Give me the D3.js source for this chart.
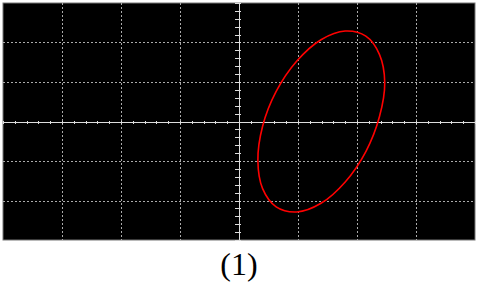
<!DOCTYPE html>
<html>
<head>
<meta charset="utf-8">
<script src="https://cdn.jsdelivr.net/npm/d3@7"></script>
<style>
  html, body { margin: 0; padding: 0; background: #fff; }
  svg { display: block; }
</style>
</head>
<body>
<svg width="479" height="286"></svg>
<script>
// screen divisions (x: 8 div, y: 6 div)
const xDivs = [-4, -3, -2, -1, 0, 1, 2, 3, 4];
const yDivs = [-3, -2, -1, 0, 1, 2, 3];
const caption = "(1)";

// trace, in divisions
const traceX = [2.47, 2.38, 2.15, 1.80, 1.39, 0.98, 0.63, 0.40, 0.32, 0.40, 0.63, 0.98, 1.39, 1.80, 2.15, 2.38];
const traceY = [0.99, 1.70, 2.16, 2.29, 2.07, 1.53, 0.76, -0.12, -0.99, -1.70, -2.16, -2.29, -2.07, -1.53, -0.76, 0.12];

const svg = d3.select("svg");

const x = d3.scaleLinear().domain([-4, 4]).range([3, 475]);
const y = d3.scaleLinear().domain([-3, 3]).range([240, 3]);

// screen
svg.append("rect")
    .attr("x", x(-4)).attr("y", y(3))
    .attr("width", x(4) - x(-4)).attr("height", y(-3) - y(3))
    .attr("fill", "#000")
    .attr("stroke", "#777")
    .attr("stroke-width", 1);

const grid = svg.append("g")
    .attr("stroke", "#aaa")
    .attr("stroke-width", 1)
    .attr("stroke-dasharray", "2,2");

grid.selectAll("line.v")
    .data(xDivs.filter(d => d !== 0 && Math.abs(d) !== 4))
    .enter().append("line")
    .attr("class", "v")
    .attr("x1", d => Math.round(x(d)) + 0.5).attr("x2", d => Math.round(x(d)) + 0.5)
    .attr("y1", y(3)).attr("y2", y(-3));

grid.selectAll("line.h")
    .data(yDivs.filter(d => d !== 0 && Math.abs(d) !== 3))
    .enter().append("line")
    .attr("class", "h")
    .attr("y1", d => Math.round(y(d)) + 0.5).attr("y2", d => Math.round(y(d)) + 0.5)
    .attr("x1", x(-4)).attr("x2", x(4));

// centre axes with minor ticks (5 per division)
const cx = Math.round(x(0)) + 0.5;
const cy = Math.round(y(0)) + 0.5;

const gx = svg.append("g")
    .attr("transform", `translate(0,${cy - 1.5})`)
    .call(d3.axisBottom(x).ticks(40).tickSize(3).tickFormat(""));
gx.select(".domain").remove();

const gy = svg.append("g")
    .attr("transform", `translate(${cx + 1.5},0)`)
    .call(d3.axisLeft(y).tickValues(d3.range(-3, 3.001, 0.2)).tickSize(6).tickFormat(""));
gy.select(".domain").remove();

gx.selectAll("line").attr("stroke", "#ddd");
gy.selectAll("line").attr("stroke", "#ddd");
gx.selectAll(".tick").attr("transform", d => `translate(${Math.round(x(d)) + 0.5},0)`);
gy.selectAll(".tick").attr("transform", d => `translate(0,${Math.round(y(d)) + 0.5})`);

svg.append("line")
    .attr("x1", x(-4)).attr("x2", x(4))
    .attr("y1", cy).attr("y2", cy)
    .attr("stroke", "#ddd");
svg.append("line")
    .attr("y1", y(3)).attr("y2", y(-3))
    .attr("x1", cx).attr("x2", cx)
    .attr("stroke", "#ddd");

// trace
const line = d3.line()
    .x(i => x(traceX[i]))
    .y(i => y(traceY[i]))
    .curve(d3.curveCatmullRomClosed.alpha(0.5));

svg.append("path")
    .attr("d", line(d3.range(traceX.length)))
    .attr("fill", "none")
    .attr("stroke", "#f00")
    .attr("stroke-width", 1.6);

svg.append("text")
    .attr("x", x(0))
    .attr("y", 275)
    .attr("text-anchor", "middle")
    .attr("font-family", "Liberation Serif, serif")
    .attr("font-size", 32)
    .attr("fill", "#000")
    .text(caption);
</script>
</body>
</html>
